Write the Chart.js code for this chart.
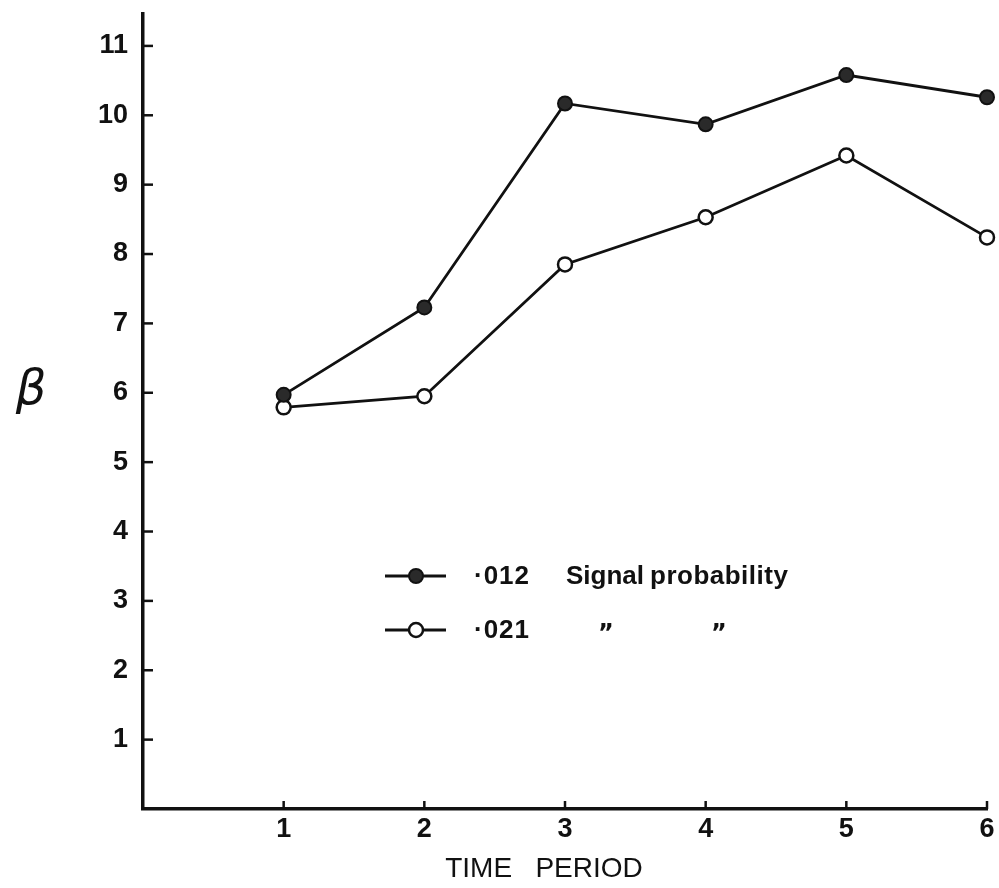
<!DOCTYPE html>
<html>
<head>
<meta charset="utf-8">
<script src="https://cdn.jsdelivr.net/npm/chart.js@4.4.1/dist/chart.umd.min.js"></script>
<style>
  html, body { margin: 0; padding: 0; background: #fff; }
  canvas { display: block; }
</style>
</head>
<body>
<canvas id="betaChart" width="999" height="888"></canvas>
<script>
// ---- data ----
const periods = [1, 2, 3, 4, 5, 6];
const beta012 = [5.97, 7.23, 10.17, 9.87, 10.58, 10.26];   // filled circles
const beta021 = [5.79, 5.95, 7.85, 8.53, 9.42, 8.24];      // open circles
const yTickValues = [1, 2, 3, 4, 5, 6, 7, 8, 9, 10, 11];
const xTickValues = [1, 2, 3, 4, 5, 6];
const legendRows = [
    { code: '\u00b7012', words: ['Signal', 'probability'] },
    { code: '\u00b7021', words: ['\u201d', '\u201d'] }
];

const INK = '#111';

// inside tick marks, axis title, beta label and the in-plot legend
const decorations = {
    id: 'decorations',
    afterDraw(chart) {
        const ctx = chart.ctx;
        const x = chart.scales.x;
        const y = chart.scales.y;
        const area = chart.chartArea;
        ctx.save();
        ctx.strokeStyle = INK;
        ctx.lineWidth = 2.5;

        // tick marks pointing into the plot
        yTickValues.forEach(v => {
            const py = y.getPixelForValue(v);
            ctx.beginPath();
            ctx.moveTo(area.left, py);
            ctx.lineTo(area.left + 10, py);
            ctx.stroke();
        });
        xTickValues.forEach(v => {
            const px = x.getPixelForValue(v);
            ctx.beginPath();
            ctx.moveTo(px, area.bottom);
            ctx.lineTo(px, area.bottom - 8);
            ctx.stroke();
        });

        // x axis title (sits a little left of the plot centre)
        ctx.fillStyle = INK;
        ctx.textAlign = 'center';
        ctx.textBaseline = 'middle';
        ctx.font = '28px "Liberation Sans", sans-serif';
        ctx.fillText('TIME   PERIOD', 544, 869);

        // beta symbol
        ctx.font = 'italic 48px "DejaVu Sans", sans-serif';
        ctx.fillText('\u03b2', 31, 392);

        // legend
        const rowsY = [576, 630];
        chart.data.datasets.forEach((ds, i) => {
            const ly = rowsY[i];
            ctx.strokeStyle = ds.borderColor;
            ctx.lineWidth = ds.borderWidth;
            ctx.beginPath();
            ctx.moveTo(385, ly);
            ctx.lineTo(446, ly);
            ctx.stroke();
            ctx.beginPath();
            ctx.arc(416, ly, ds.pointRadius, 0, Math.PI * 2);
            ctx.fillStyle = ds.pointBackgroundColor;
            ctx.fill();
            ctx.lineWidth = ds.pointBorderWidth;
            ctx.strokeStyle = ds.pointBorderColor;
            ctx.stroke();

            const row = legendRows[i];
            ctx.fillStyle = INK;
            ctx.textAlign = 'left';
            ctx.textBaseline = 'middle';
            ctx.font = 'bold 26px "Liberation Sans", sans-serif';
            ctx.letterSpacing = '1px';
            ctx.fillText(row.code, 474, ly + 1);
            if (i === 0) {
                ctx.letterSpacing = '0px';
                ctx.fillText(row.words[0], 566, ly + 1);
                ctx.letterSpacing = '0.5px';
                ctx.fillText(row.words[1], 650, ly + 1);
            } else {
                ctx.font = 'bold 24px "DejaVu Sans", sans-serif';
                ctx.fillText(row.words[0], 598, ly + 5);
                ctx.fillText(row.words[1], 711, ly + 5);
            }
            ctx.letterSpacing = '0px';
        });
        ctx.restore();
    }
};

const pts = arr => periods.map((p, i) => ({ x: p, y: arr[i] }));

new Chart(document.getElementById('betaChart'), {
    type: 'line',
    data: {
        datasets: [
            {
                label: '\u00b7012 Signal probability',
                data: pts(beta012),
                borderColor: INK,
                borderWidth: 2.8,
                pointRadius: 7,
                pointBackgroundColor: '#2a2a2a',
                pointBorderColor: INK,
                pointBorderWidth: 2,
                tension: 0,
                clip: false
            },
            {
                label: '\u00b7021 Signal probability',
                data: pts(beta021),
                borderColor: INK,
                borderWidth: 2.8,
                pointRadius: 7,
                pointBackgroundColor: '#fff',
                pointBorderColor: INK,
                pointBorderWidth: 2.5,
                tension: 0,
                clip: false
            }
        ]
    },
    options: {
        responsive: false,
        animation: false,
        layout: { padding: { top: 14, right: 12, left: 0, bottom: 0 } },
        plugins: {
            legend: { display: false },
            tooltip: { enabled: false }
        },
        scales: {
            x: {
                type: 'linear',
                min: 0,
                max: 6,
                afterFit(scale) {
                    scale.height = 79;
                    scale.paddingLeft = 0;
                    scale.paddingRight = 0;
                },
                afterBuildTicks(scale) { scale.ticks = xTickValues.map(v => ({ value: v })); },
                grid: { display: false, drawTicks: false },
                border: { display: true, color: INK, width: 3.5 },
                ticks: {
                    color: INK,
                    padding: 4,
                    maxRotation: 0,
                    font: { family: '"Liberation Sans Narrow", "Liberation Sans", sans-serif', size: 27, weight: 'bold' }
                }
            },
            y: {
                type: 'linear',
                min: 0,
                max: 11.46,
                afterFit(scale) {
                    scale.width = 143;
                    scale.paddingTop = 0;
                    scale.paddingBottom = 0;
                },
                afterBuildTicks(scale) { scale.ticks = yTickValues.map(v => ({ value: v })); },
                grid: { display: false, drawTicks: false },
                border: { display: true, color: INK, width: 3.5 },
                ticks: {
                    color: INK,
                    padding: 15,
                    font: { family: '"Liberation Sans", sans-serif', size: 27, weight: 'bold' }
                }
            }
        }
    },
    plugins: [decorations]
});
</script>
</body>
</html>
